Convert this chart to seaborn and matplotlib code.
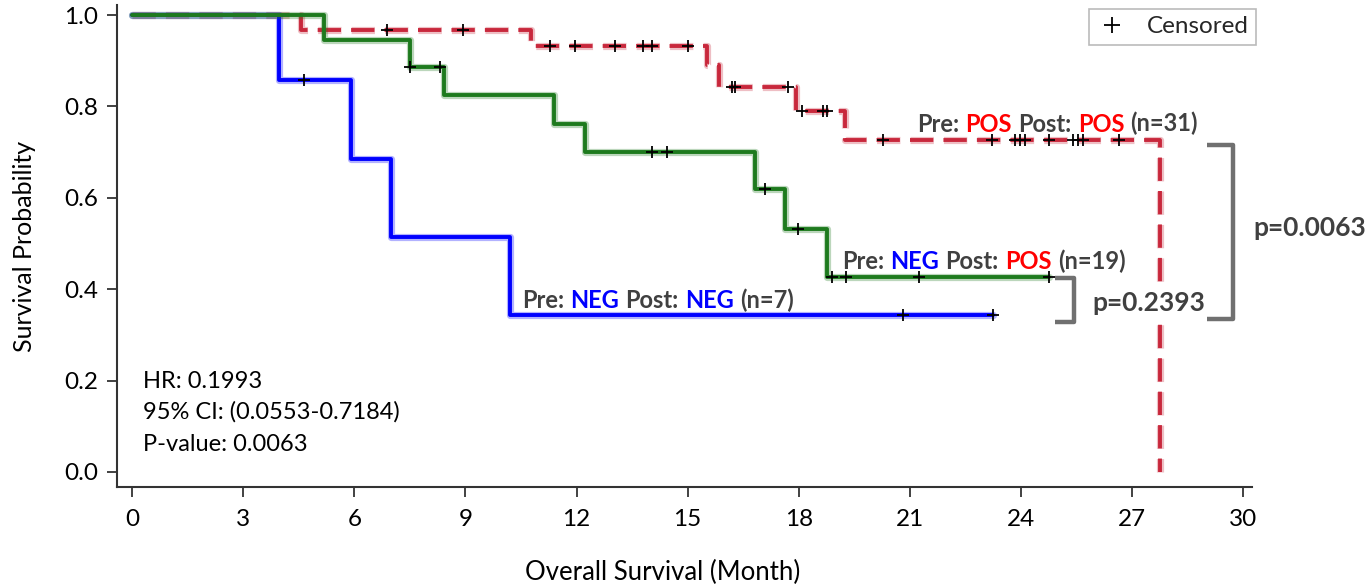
import numpy as np
import pandas as pd
import matplotlib
matplotlib.use("Agg")
import matplotlib.pyplot as plt
import matplotlib.patheffects as pe
from matplotlib.lines import Line2D
from matplotlib.offsetbox import TextArea, HPacker, AnnotationBbox
import seaborn as sns

# ---------------- data ----------------
neg_neg_times = [0, 3.97, 5.92, 7.0, 10.19, 23.24]
neg_neg_surv = [1.0, 0.857, 0.686, 0.514, 0.343, 0.343]
neg_neg_censor = [4.65, 20.81, 23.24]

neg_pos_times = [0, 5.19, 7.5, 8.43, 11.4, 12.24, 16.81, 17.62, 18.76, 24.76]
neg_pos_surv = [1.0, 0.945, 0.887, 0.825, 0.762, 0.700, 0.619, 0.532, 0.426, 0.426]
neg_pos_censor = [7.5, 8.3, 14.05, 14.43, 17.08, 17.97, 18.9, 19.27, 21.24, 24.76]

pos_pos_times = [0, 4.57, 10.78, 15.51, 15.84, 17.92, 19.24, 27.75]
pos_pos_surv = [1.0, 0.967, 0.933, 0.891, 0.843, 0.791, 0.727, 0.0]
pos_pos_censor = [6.88, 8.93, 11.28, 11.95, 13.03, 13.8, 14.05, 15.0, 16.19, 16.27,
                  17.7, 18.08, 18.65, 18.76, 20.27, 23.22, 23.84, 23.97, 24.1,
                  24.76, 25.4, 25.54, 25.68, 26.65]

x_ticks = [0, 3, 6, 9, 12, 15, 18, 21, 24, 27, 30]
y_ticks = [0.0, 0.2, 0.4, 0.6, 0.8, 1.0]

hr_lines = ["HR: 0.1993", "95% CI: (0.0553-0.7184)", "P-value: 0.0063"]
p_pair1 = "p=0.2393"
p_pair2 = "p=0.0063"

FONT = "Lato"
GRAY_TXT = "#404040"
RED_TXT = "#FF0000"
BLUE_TXT = "#0000FF"

sns.set_theme(style="ticks")
plt.rcParams["font.family"] = [FONT, "DejaVu Sans"]

fig = plt.figure(figsize=(13.7, 5.85), dpi=100)
ax = fig.add_axes([117 / 1370, (585 - 487) / 585, (1252 - 117) / 1370, (487 - 5) / 585])

groups = [
    ("pos_pos", pos_pos_times, pos_pos_surv, pos_pos_censor, "#C8283C", (0, (6.0, 2.6))),
    ("neg_neg", neg_neg_times, neg_neg_surv, neg_neg_censor, "#0000FF", "-"),
    ("neg_pos", neg_pos_times, neg_pos_surv, neg_pos_censor, "#1E7A1E", "-"),
]

for name, t, s, c, col, ls in groups:
    df = pd.DataFrame({"time": t, "surv": s})
    sns.lineplot(data=df, x="time", y="surv", ax=ax, estimator=None, sort=False,
                 drawstyle="steps-post", color=col, linewidth=2.8, zorder=3)
    line = ax.lines[-1]
    line.set_linestyle(ls)
    line.set_path_effects([pe.Stroke(linewidth=5.2, foreground=col, alpha=0.3), pe.Normal()])

for name, t, s, c, col, ls in groups:
    idx = np.searchsorted(np.asarray(t), np.asarray(c), side="right") - 1
    cy = np.asarray(s)[idx]
    cdf = pd.DataFrame({"time": c, "surv": cy})
    sns.scatterplot(data=cdf, x="time", y="surv", ax=ax, marker="+", color="black",
                    s=75, linewidth=1.3, zorder=5)

ax.set_xlim(-0.41, 30.24)
ax.set_ylim(-0.033, 1.022)
ax.set_xticks(x_ticks)
ax.set_xticklabels([str(v) for v in x_ticks])
ax.set_yticks(y_ticks)
ax.set_yticklabels([f"{v:.1f}" for v in y_ticks])
ax.tick_params(axis="both", labelsize=17.5, length=7.5, width=1.3, color="#333333", labelcolor="black")
ax.tick_params(axis="y", pad=6)
ax.tick_params(axis="x", pad=8)
for sp in ["top", "right"]:
    ax.spines[sp].set_visible(False)
for sp in ["left", "bottom"]:
    ax.spines[sp].set_color("#333333")
    ax.spines[sp].set_linewidth(1.5)

ax.set_xlabel("Overall Survival (Month)", fontsize=18.5, color="black")
ax.set_ylabel("Survival Probability", fontsize=18, color="black")
ax.xaxis.set_label_coords((663 - 117) / 1135, -(560 - 487) / 482)
ax.yaxis.set_label_coords(-(117 - 36) / 1135, 0.5)

# legend
h = Line2D([], [], marker="+", linestyle="None", color="black", markersize=12, markeredgewidth=1.3)
leg = ax.legend(handles=[h], labels=["Censored"], loc="upper right",
                bbox_to_anchor=(1256 / 1370, 1 - 9 / 585), bbox_transform=fig.transFigure,
                frameon=True, fancybox=False, edgecolor="#BBBBBB", framealpha=1,
                fontsize=17.5, handlelength=1.3, handletextpad=0.8, borderpad=0.3,
                borderaxespad=0)
leg.get_frame().set_linewidth(1.2)


def multicolor(x, y, parts, size):
    areas = [TextArea(txt, textprops=dict(color=cc, fontsize=size, fontweight="bold", family=FONT))
             for txt, cc in parts]
    box = HPacker(children=areas, align="baseline", pad=0, sep=4.5)
    ab = AnnotationBbox(box, (x, y), xycoords="data", box_alignment=(0, 0.5),
                        frameon=False, pad=0, annotation_clip=False)
    ab.set_zorder(6)
    ax.add_artist(ab)


multicolor(21.2, 0.762, [("Pre:", GRAY_TXT), ("POS", RED_TXT), ("Post:", GRAY_TXT),
                         ("POS", RED_TXT), ("(n=31)", GRAY_TXT)], 17)
multicolor(19.17, 0.4616, [("Pre:", GRAY_TXT), ("NEG", BLUE_TXT), ("Post:", GRAY_TXT),
                           ("POS", RED_TXT), ("(n=19)", GRAY_TXT)], 17)
multicolor(10.53, 0.376, [("Pre:", GRAY_TXT), ("NEG", BLUE_TXT), ("Post:", GRAY_TXT),
                          ("NEG", BLUE_TXT), ("(n=7)", GRAY_TXT)], 17)

for i, txt in enumerate(hr_lines):
    ax.text(0.29, [0.199, 0.131, 0.0608][i], txt, fontsize=17, color="black",
            ha="left", va="center")

# brackets
br_kw = dict(color="#707070", linewidth=3.2, clip_on=False, solid_joinstyle="round",
             solid_capstyle="butt", zorder=4)
ax.plot([24.93, 25.44, 25.44, 24.93], [0.424, 0.424, 0.328, 0.328], **br_kw)
ax.plot([29.03, 29.73, 29.73, 29.03], [0.7155, 0.7155, 0.3345, 0.3345], **br_kw)
ax.text(25.92, 0.3694, p_pair1, fontsize=19, fontweight="bold", color=GRAY_TXT,
        ha="left", va="center", zorder=7,
        bbox=dict(facecolor="white", edgecolor="none", pad=1.5))
ax.text(30.27, 0.5339, p_pair2, fontsize=19, fontweight="bold", color=GRAY_TXT,
        ha="left", va="center", zorder=7)

fig.savefig("out.png", dpi=100)
